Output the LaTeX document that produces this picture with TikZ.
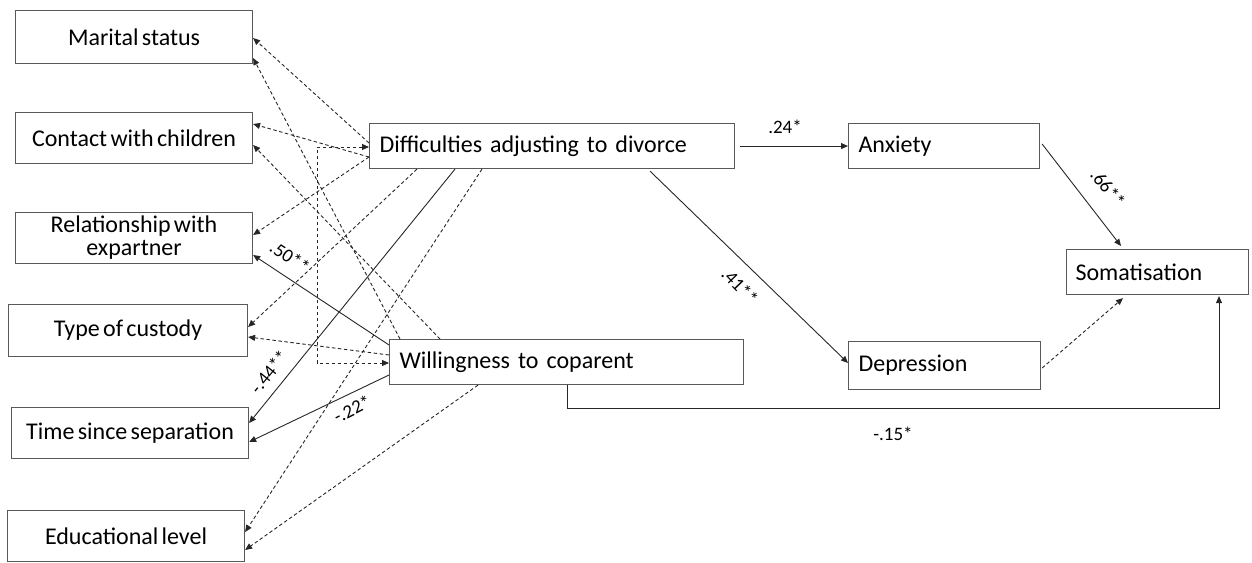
\documentclass[tikz,border=0pt]{standalone}
\usepackage{fontspec}
\setmainfont{Carlito}[WordSpace=0.6]
\usetikzlibrary{arrows.meta,calc}
\definecolor{bc}{HTML}{595959}
\definecolor{lc}{HTML}{262626}
\newcommand\boxfont{\fontsize{24}{23}\selectfont}
\newcommand\labfont{\fontsize{19}{20}\selectfont}
\begin{document}
\begin{tikzpicture}[x=1pt,y=-1pt,
  >={Triangle[length=7pt,width=6pt]},
  lbox/.style={draw=bc,line width=1.1pt,anchor=north west,inner sep=0pt,align=center,font=\boxfont,minimum width=237pt,minimum height=51pt},
  rbox/.style={draw=bc,line width=1.1pt,anchor=north west,inner xsep=10pt,inner ysep=0pt,align=left,font=\boxfont,minimum height=45pt},
  ln/.style={line width=0.9pt,draw=lc},
  dsh/.style={dash pattern=on 3.5pt off 2.5pt},
  lab/.style={font=\labfont,inner sep=1pt}]
\useasboundingbox (0,0) rectangle (1252,562);
% left boxes
\node[lbox,minimum height=53pt] (mar) at (15,10) {Marital status};
\node[lbox] (con) at (15,112) {Contact with children};
\node[lbox] (rel) at (15,212) {Relationship with\\expartner};
\node[lbox,minimum width=239pt,minimum height=52pt] (typ) at (8,304) {Type of custody};
\node[lbox] (tim) at (11,407) {Time since separation};
\node[lbox] (edu) at (7,510) {Educational level};
% middle and right boxes
\node[rbox,text width=345pt] (dif) at (369,123) {Difficulties adjusting to divorce};
\node[rbox,text width=334pt] (wil) at (389,339) {Willingness to coparent};
\node[rbox,text width=171pt] (anx) at (848,123) {Anxiety};
\node[rbox,text width=172pt,minimum height=48pt] (dep) at (848,341) {Depression};
\node[rbox,text width=164pt,inner xsep=9pt] (som) at (1066,249) {Somatisation};
% dashed paths to left boxes
\draw[ln,dsh,->] ($(dif.north west)+(0,20)$) -- ($(mar.north east)+(0,28)$);
\draw[ln,dsh,->] ($(wil.north west)+(11,0)$) -- ($(mar.north east)+(0,48)$);
\draw[ln,dsh,->] ($(dif.north west)+(0,34)$) -- ($(con.north east)+(0,12)$);
\draw[ln,dsh,->] ($(wil.north west)+(51,0)$) -- ($(con.north east)+(0,33)$);
\draw[ln,dsh,->] ($(dif.north west)+(0,34)$) -- ($(rel.north east)+(0,23)$);
\draw[ln,dsh,->] ($(dif.south west)+(48,0)$) -- ($(typ.north east)+(0,23)$);
\draw[ln,dsh,->] ($(wil.north west)+(0,16)$) -- ($(typ.north east)+(0,33)$);
\draw[ln,dsh,->] ($(dif.south west)+(113,0)$) -- ($(edu.north east)+(0,22)$);
\draw[ln,dsh,->] ($(wil.south west)+(89,0)$) -- ($(edu.north east)+(0,40)$);
% correlation bracket
\draw[ln,dsh,<->] ($(dif.north west)+(0,24)$) -- ++(-52,0) |- ($(wil.north west)+(0,24)$);
% solid paths to left boxes
\draw[ln,->] ($(wil.north west)+(0,6)$) -- ($(rel.north east)+(0,43)$);
\draw[ln,->] ($(dif.south west)+(86,0)$) -- ($(tim.north east)+(0,16)$);
\draw[ln,->] ($(wil.north west)+(0,36)$) -- ($(tim.north east)+(0,35)$);
% right side
\draw[ln,->] ($(dif.east)+(5,0)$) -- (anx.west);
\draw[ln,->] ($(dif.south west)+(281,2)$) -- ($(dep.north west)+(0,22)$);
\draw[ln,->] ($(anx.north east)+(2,21)$) -- ($(som.north west)+(55,-3)$);
\draw[ln,dsh,->] ($(dep.north east)+(1,27)$) -- ($(som.south west)+(57,3)$);
\draw[ln,->] ($(wil.south west)+(178,0)$) -- ++(0,23) -| ($(som.south west)+(153,1)$);
% labels
\node[lab] (l24) at (785,127) {.24*};
\node[lab,rotate=-51] (l66) at (1108,188) {.66**};
\node[lab,rotate=-46] (l41) at (740,286) {.41**};
\node[lab,rotate=-33] (l50) at (290,257) {.50**};
\node[lab,rotate=51] (l44) at (269,372) {-.44**};
\node[lab,rotate=27] (l22) at (352,409) {-.22*};
\node[lab] (l15) at (893,434) {-.15*};
\end{tikzpicture}
\end{document}
